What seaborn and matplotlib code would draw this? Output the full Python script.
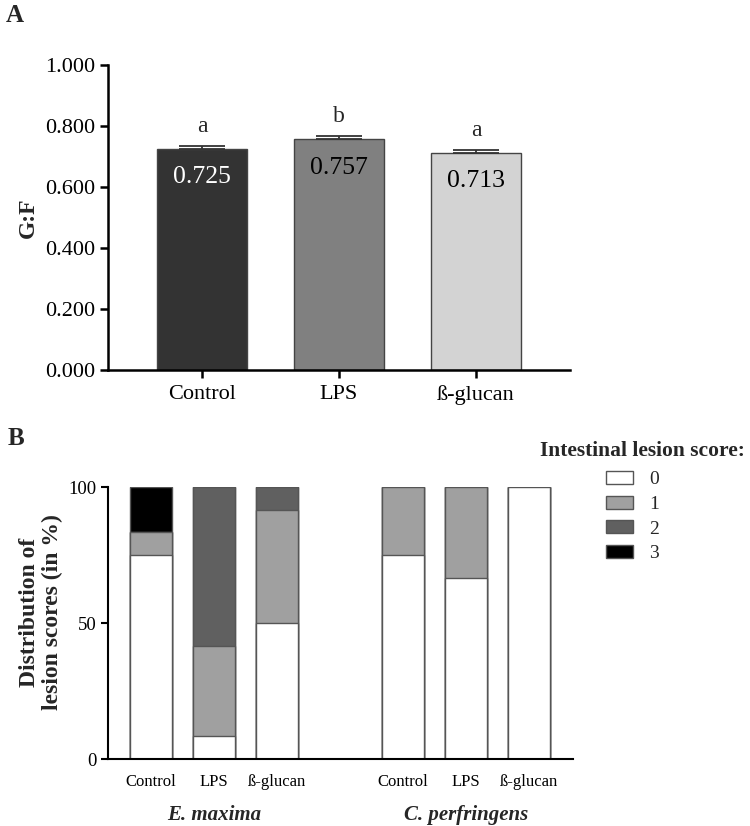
import numpy as np
import pandas as pd
import matplotlib
matplotlib.use("Agg")
import matplotlib.pyplot as plt
import seaborn as sns
from matplotlib.patches import Patch

# ---------------- data ----------------
groups_a = ["Control", "LPS", "ß-glucan"]
gf_values = [0.725, 0.757, 0.713]
gf_err = [0.010, 0.010, 0.008]
gf_letters = ["a", "b", "a"]
colors_a = ["#333333", "#808080", "#d3d3d3"]

treatments = ["Control", "LPS", "ß-glucan"]
pathogens = ["E. maxima", "C. perfringens"]
scores = ["0", "1", "2", "3"]
score_colors = ["#ffffff", "#a0a0a0", "#606060", "#000000"]
# percentage of birds per lesion score (0,1,2,3)
em_control = [75.0, 8.33, 0.0, 16.67]
em_lps = [8.33, 33.33, 58.34, 0.0]
em_bglucan = [50.0, 41.67, 8.33, 0.0]
cp_control = [75.0, 25.0, 0.0, 0.0]
cp_lps = [66.67, 33.33, 0.0, 0.0]
cp_bglucan = [100.0, 0.0, 0.0, 0.0]
bar_positions = [0, 1, 2, 4, 5, 6]

# ---------------- style ----------------
sns.set_theme(style="ticks")
plt.rcParams["font.family"] = ["Liberation Serif", "DejaVu Serif"]
plt.rcParams["axes.edgecolor"] = "black"
plt.rcParams["xtick.color"] = "black"
plt.rcParams["ytick.color"] = "black"

fig = plt.figure(figsize=(7.5, 8.26), dpi=100)

# ---------------- Panel A ----------------
axA = fig.add_axes([108/750, 1-370/826, 462/750, 305/826])
dfa = pd.DataFrame({"group": groups_a, "gf": gf_values})
sns.barplot(data=dfa, x="group", y="gf", hue="group", palette=colors_a,
            order=groups_a, hue_order=groups_a, width=0.664, edgecolor="#444444",
            linewidth=1.0, legend=False, ax=axA, saturation=1)
xs = np.arange(len(groups_a))
axA.errorbar(xs, gf_values, yerr=[np.zeros(3), gf_err], fmt="none",
             ecolor="#333333", elinewidth=1.3, capsize=16.5, capthick=1.3, zorder=1)
for x, v, e, l, c in zip(xs, gf_values, gf_err, gf_letters, colors_a):
    axA.text(x, v + e + 0.03, l, ha="center", va="bottom", fontsize=17)
    axA.text(x, v - 0.057, f"{v:.3f}", ha="center", va="top", fontsize=18.5,
             color="white" if c == "#333333" else "black")
axA.set_ylim(0, 1.0)
axA.set_xlim(-0.686, 2.686)
axA.set_yticks(np.arange(0, 1.01, 0.2))
axA.set_yticklabels([f"{t:.3f}" for t in np.arange(0, 1.01, 0.2)])
axA.tick_params(axis="both", labelsize=16, width=1.8, length=6)
axA.tick_params(axis="x", pad=5)
axA.set_xlabel("")
axA.set_ylabel("G:F", fontsize=17, fontweight="bold", labelpad=4)
for s in ["top", "right"]:
    axA.spines[s].set_visible(False)
for s in ["left", "bottom"]:
    axA.spines[s].set_linewidth(1.8)
fig.text(6/750, 1-22/826, "A", fontsize=18, fontweight="bold")

# ---------------- Panel B ----------------
axB = fig.add_axes([108/750, 1-759/826, 465/750, 272/826])
all_data = [em_control, em_lps, em_bglucan, cp_control, cp_lps, cp_bglucan]
rows = []
for pos, d in zip(bar_positions, all_data):
    cum = np.cumsum(d)
    for k, sc in enumerate(scores):
        rows.append({"pos": pos, "score": sc, "cum": cum[k]})
dfb = pd.DataFrame(rows)
# draw from top layer (score 3) to bottom layer (score 0), each overlaying
for k in range(len(scores) - 1, -1, -1):
    sub = dfb[dfb["score"] == scores[k]]
    sns.barplot(data=sub, x="pos", y="cum", native_scale=True, color=score_colors[k],
                width=0.667, edgecolor="#555555", linewidth=1.0, ax=axB, saturation=1,
                errorbar=None)
axB.set_xlim(-0.683, 6.70)
axB.set_ylim(0, 100)
axB.set_yticks([0, 50, 100])
axB.set_xticks(bar_positions)
axB.set_xticklabels(treatments * 2)
axB.tick_params(axis="y", labelsize=13.5, width=1.5, length=5)
axB.tick_params(axis="x", labelsize=12, length=0, pad=11)
axB.set_xlabel("")
axB.set_ylabel("Distribution of\nlesion scores (in %)", fontsize=17,
               fontweight="bold", linespacing=1.1)
axB.yaxis.set_label_coords(-0.097, 0.54)
for s in ["top", "right"]:
    axB.spines[s].set_visible(False)
for s in ["left", "bottom"]:
    axB.spines[s].set_linewidth(1.5)
for cx, name in zip([1, 5], pathogens):
    axB.text(cx, -0.205, name, transform=axB.get_xaxis_transform(), ha="center",
             va="center", fontsize=15, fontweight="bold", fontstyle="italic")
fig.text(8/750, 1-445/826, "B", fontsize=18, fontweight="bold")

fig.text(540/750, 1-451/826, "Intestinal lesion score:", fontsize=15.5,
         fontweight="bold", va="center", ha="left")
handles = [Patch(facecolor=c, edgecolor="#555555", linewidth=1.0) for c in score_colors]
leg = fig.legend(handles, scores, loc="upper left", bbox_to_anchor=(606/750, 1-471/826),
                 frameon=False, fontsize=14, handlelength=1.4, handleheight=0.65,
                 labelspacing=0.38, handletextpad=0.8, borderaxespad=0, borderpad=0)

fig.savefig("out.png", dpi=100)
